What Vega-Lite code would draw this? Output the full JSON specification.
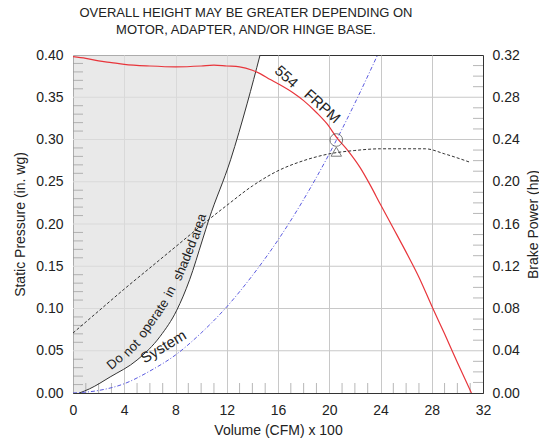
{
  "$schema": "https://vega.github.io/schema/vega-lite/v6.json",
  "width": 410,
  "height": 338,
  "autosize": {"type": "none"},
  "padding": {"left": 73, "top": 55, "right": 56, "bottom": 52},
  "background": "white",
  "config": {
    "font": "Liberation Sans",
    "view": {"stroke": "#333", "strokeWidth": 1},
    "axis": {
      "labelFont": "Liberation Sans",
      "titleFont": "Liberation Sans",
      "labelFontSize": 14,
      "titleFontSize": 14,
      "titleFontWeight": "normal",
      "labelColor": "#222",
      "titleColor": "#222",
      "domainColor": "#333",
      "gridColor": "#c8c8c8",
      "ticks": false,
      "labelOverlap": false,
      "labelFlush": false,
      "labelBound": false
    }
  },
  "title": {
    "text": ["OVERALL HEIGHT MAY BE GREATER DEPENDING ON", "MOTOR, ADAPTER, AND/OR HINGE BASE."],
    "fontSize": 13,
    "fontWeight": "normal",
    "font": "Liberation Sans",
    "lineHeight": 17,
    "offset": 11,
    "dx": -32,
    "color": "#222",
    "anchor": "middle"
  },
  "datasets": {
    "fan": [
      {"cfm": 0, "sp": 0.398}, {"cfm": 1, "sp": 0.396}, {"cfm": 2, "sp": 0.393}, {"cfm": 3, "sp": 0.391},
      {"cfm": 4, "sp": 0.389}, {"cfm": 6, "sp": 0.387}, {"cfm": 8, "sp": 0.386}, {"cfm": 10, "sp": 0.387},
      {"cfm": 11, "sp": 0.388}, {"cfm": 12, "sp": 0.387}, {"cfm": 13, "sp": 0.386}, {"cfm": 14, "sp": 0.382},
      {"cfm": 14.6, "sp": 0.378}, {"cfm": 15.4, "sp": 0.371}, {"cfm": 16, "sp": 0.366}, {"cfm": 17.2, "sp": 0.355},
      {"cfm": 18, "sp": 0.346}, {"cfm": 19, "sp": 0.332}, {"cfm": 19.8, "sp": 0.319}, {"cfm": 20.6, "sp": 0.302},
      {"cfm": 21.5, "sp": 0.286}, {"cfm": 22.4, "sp": 0.267}, {"cfm": 23.2, "sp": 0.246}, {"cfm": 24, "sp": 0.223},
      {"cfm": 25, "sp": 0.195}, {"cfm": 26.3, "sp": 0.158}, {"cfm": 27, "sp": 0.137}, {"cfm": 28, "sp": 0.103},
      {"cfm": 29, "sp": 0.07}, {"cfm": 30, "sp": 0.036}, {"cfm": 31.1, "sp": 0}
    ],
    "shade": [
      {"cfm": 0.5, "sp": 0}, {"cfm": 1.3, "sp": 0.005}, {"cfm": 2.9, "sp": 0.019}, {"cfm": 5, "sp": 0.039},
      {"cfm": 6.8, "sp": 0.067}, {"cfm": 8.1, "sp": 0.098}, {"cfm": 9.1, "sp": 0.134}, {"cfm": 10.1, "sp": 0.181},
      {"cfm": 10.6, "sp": 0.205}, {"cfm": 12.3, "sp": 0.276}, {"cfm": 13.6, "sp": 0.343}, {"cfm": 14.6, "sp": 0.4}
    ],
    "system": [
      {"cfm": 0, "sp": 0}, {"cfm": 2, "sp": 0.003}, {"cfm": 4, "sp": 0.011}, {"cfm": 6, "sp": 0.026},
      {"cfm": 8, "sp": 0.045}, {"cfm": 10, "sp": 0.071}, {"cfm": 12, "sp": 0.102}, {"cfm": 14, "sp": 0.139},
      {"cfm": 16, "sp": 0.181}, {"cfm": 18, "sp": 0.229}, {"cfm": 20, "sp": 0.283}, {"cfm": 20.55, "sp": 0.299},
      {"cfm": 22, "sp": 0.343}, {"cfm": 23.77, "sp": 0.4}
    ],
    "bhp": [
      {"cfm": 0, "hp": 0.0568}, {"cfm": 2, "hp": 0.0776}, {"cfm": 4, "hp": 0.0984}, {"cfm": 6, "hp": 0.1184},
      {"cfm": 8, "hp": 0.1384}, {"cfm": 10, "hp": 0.1584}, {"cfm": 12, "hp": 0.1776}, {"cfm": 14, "hp": 0.196},
      {"cfm": 16, "hp": 0.2104}, {"cfm": 18, "hp": 0.22}, {"cfm": 20, "hp": 0.2264}, {"cfm": 22, "hp": 0.2296},
      {"cfm": 24, "hp": 0.2312}, {"cfm": 26, "hp": 0.2312}, {"cfm": 27.5, "hp": 0.2312}, {"cfm": 29, "hp": 0.2264},
      {"cfm": 31, "hp": 0.2184}
    ],
    "ygrid": [
      {"sp": 0.05}, {"sp": 0.1}, {"sp": 0.15}, {"sp": 0.2}, {"sp": 0.25}, {"sp": 0.3}, {"sp": 0.35}
    ],
    "xminor": [
      {"cfm": 1}, {"cfm": 2}, {"cfm": 3}, {"cfm": 5}, {"cfm": 6}, {"cfm": 7}, {"cfm": 9}, {"cfm": 10}, {"cfm": 11},
      {"cfm": 13}, {"cfm": 14}, {"cfm": 15}, {"cfm": 17}, {"cfm": 18}, {"cfm": 19}, {"cfm": 21}, {"cfm": 22}, {"cfm": 23},
      {"cfm": 25}, {"cfm": 26}, {"cfm": 27}, {"cfm": 29}, {"cfm": 30}, {"cfm": 31}
    ],
    "yminor": [
      {"sp": 0.01}, {"sp": 0.02}, {"sp": 0.03}, {"sp": 0.04}, {"sp": 0.06}, {"sp": 0.07}, {"sp": 0.08}, {"sp": 0.09},
      {"sp": 0.11}, {"sp": 0.12}, {"sp": 0.13}, {"sp": 0.14}, {"sp": 0.16}, {"sp": 0.17}, {"sp": 0.18}, {"sp": 0.19},
      {"sp": 0.21}, {"sp": 0.22}, {"sp": 0.23}, {"sp": 0.24}, {"sp": 0.26}, {"sp": 0.27}, {"sp": 0.28}, {"sp": 0.29},
      {"sp": 0.31}, {"sp": 0.32}, {"sp": 0.33}, {"sp": 0.34}, {"sp": 0.36}, {"sp": 0.37}, {"sp": 0.38}, {"sp": 0.39}
    ],
    "hpminor": [
      {"hp": 0.01}, {"hp": 0.02}, {"hp": 0.03}, {"hp": 0.05}, {"hp": 0.06}, {"hp": 0.07}, {"hp": 0.09}, {"hp": 0.1},
      {"hp": 0.11}, {"hp": 0.13}, {"hp": 0.14}, {"hp": 0.15}, {"hp": 0.17}, {"hp": 0.18}, {"hp": 0.19}, {"hp": 0.21},
      {"hp": 0.22}, {"hp": 0.23}, {"hp": 0.25}, {"hp": 0.26}, {"hp": 0.27}, {"hp": 0.29}, {"hp": 0.3}, {"hp": 0.31}
    ]
  },
  "layer": [
    {
      "layer": [
        {
          "data": {"name": "ygrid"},
          "mark": {"type": "tick", "orient": "horizontal", "size": 410, "thickness": 1, "color": "#c8c8c8", "opacity": 1},
          "encoding": {
            "y": {
              "field": "sp", "type": "quantitative",
              "scale": {"domain": [0, 0.4], "nice": false},
              "axis": {
                "orient": "left",
                "title": "Static Pressure (in. wg)",
                "titlePadding": 8,
                "values": [0, 0.05, 0.1, 0.15, 0.2, 0.25, 0.3, 0.35, 0.4],
                "format": ".2f",
                "labelPadding": 10,
                "grid": false
              }
            },
            "x": {
              "datum": 16, "type": "quantitative",
              "scale": {"domain": [0, 32], "nice": false},
              "axis": {
                "orient": "bottom",
                "title": "Volume (CFM) x 100",
                "titlePadding": 6,
                "values": [0, 4, 8, 12, 16, 20, 24, 28, 32],
                "labelPadding": 10,
                "grid": true
              }
            }
          }
        },
        {
          "data": {"name": "shade"},
          "mark": {"type": "area", "orient": "horizontal", "fill": "#e0e0e0", "fillOpacity": 0.7, "interpolate": "monotone", "clip": true},
          "encoding": {
            "y": {"field": "sp", "type": "quantitative"},
            "x": {"field": "cfm", "type": "quantitative", "title": "Volume (CFM) x 100"},
            "x2": {"datum": 0}
          }
        },
        {
          "data": {"name": "xminor"},
          "mark": {"type": "tick", "orient": "vertical", "size": 20, "thickness": 1, "color": "#999", "clip": true},
          "encoding": {
            "x": {"field": "cfm", "type": "quantitative", "title": "Volume (CFM) x 100"},
            "y": {"datum": 0, "type": "quantitative"}
          }
        },
        {
          "data": {"name": "yminor"},
          "mark": {"type": "tick", "orient": "horizontal", "size": 20, "thickness": 1, "color": "#999", "clip": true},
          "encoding": {
            "y": {"field": "sp", "type": "quantitative"},
            "x": {"datum": 0, "type": "quantitative"}
          }
        },
        {
          "data": {"name": "shade"},
          "mark": {"type": "line", "stroke": "#333", "strokeWidth": 1, "interpolate": "monotone", "clip": true},
          "encoding": {
            "x": {"field": "cfm", "type": "quantitative", "title": "Volume (CFM) x 100"},
            "y": {"field": "sp", "type": "quantitative"}
          }
        },
        {
          "data": {"name": "system"},
          "mark": {"type": "line", "stroke": "#5a5ae0", "strokeWidth": 1, "strokeDash": [4, 2, 1, 2], "interpolate": "monotone", "clip": true},
          "encoding": {
            "x": {"field": "cfm", "type": "quantitative", "title": "Volume (CFM) x 100"},
            "y": {"field": "sp", "type": "quantitative"}
          }
        },
        {
          "data": {"name": "fan"},
          "mark": {"type": "line", "stroke": "#e8353b", "strokeWidth": 1.2, "interpolate": "monotone", "clip": true},
          "encoding": {
            "x": {"field": "cfm", "type": "quantitative", "title": "Volume (CFM) x 100"},
            "y": {"field": "sp", "type": "quantitative"}
          }
        },
        {
          "data": {"values": [{"cfm": 20.55, "sp": 0.2994}]},
          "mark": {"type": "point", "shape": "circle", "size": 160, "filled": false, "stroke": "#444", "strokeWidth": 1},
          "encoding": {
            "x": {"field": "cfm", "type": "quantitative", "title": "Volume (CFM) x 100"},
            "y": {"field": "sp", "type": "quantitative"}
          }
        },
        {
          "data": {"values": [{"cfm": 20.55, "sp": 0.2856}]},
          "mark": {"type": "point", "shape": "triangle-up", "size": 110, "filled": false, "stroke": "#444", "strokeWidth": 1},
          "encoding": {
            "x": {"field": "cfm", "type": "quantitative", "title": "Volume (CFM) x 100"},
            "y": {"field": "sp", "type": "quantitative"}
          }
        },
        {
          "data": {"values": [{"cfm": 16.66, "sp": 0.3744, "label": "554"}, {"cfm": 19.46, "sp": 0.3394, "label": "FRPM"}]},
          "mark": {"type": "text", "angle": 42, "fontSize": 15, "color": "#222", "align": "center", "baseline": "middle"},
          "encoding": {
            "x": {"field": "cfm", "type": "quantitative", "title": "Volume (CFM) x 100"},
            "y": {"field": "sp", "type": "quantitative"},
            "text": {"field": "label"}
          }
        },
        {
          "data": {"values": [{"cfm": 7.05, "sp": 0.0548, "label": "System"}]},
          "mark": {"type": "text", "angle": -31, "fontSize": 15, "color": "#222", "align": "center", "baseline": "middle"},
          "encoding": {
            "x": {"field": "cfm", "type": "quantitative", "title": "Volume (CFM) x 100"},
            "y": {"field": "sp", "type": "quantitative"},
            "text": {"field": "label"}
          }
        },
        {
          "data": {"values": [{"cfm": 3.28, "sp": 0.037, "label": "Do"}]},
          "mark": {"type": "text", "angle": -40, "fontSize": 13, "color": "#222", "align": "center", "baseline": "middle"},
          "encoding": {"x": {"field": "cfm", "type": "quantitative", "title": "Volume (CFM) x 100"}, "y": {"field": "sp", "type": "quantitative"}, "text": {"field": "label"}}
        },
        {
          "data": {"values": [{"cfm": 4.58, "sp": 0.053, "label": "not"}]},
          "mark": {"type": "text", "angle": -46, "fontSize": 13, "color": "#222", "align": "center", "baseline": "middle"},
          "encoding": {"x": {"field": "cfm", "type": "quantitative", "title": "Volume (CFM) x 100"}, "y": {"field": "sp", "type": "quantitative"}, "text": {"field": "label"}}
        },
        {
          "data": {"values": [{"cfm": 6.27, "sp": 0.088, "label": "operate"}]},
          "mark": {"type": "text", "angle": -55, "fontSize": 13, "color": "#222", "align": "center", "baseline": "middle"},
          "encoding": {"x": {"field": "cfm", "type": "quantitative", "title": "Volume (CFM) x 100"}, "y": {"field": "sp", "type": "quantitative"}, "text": {"field": "label"}}
        },
        {
          "data": {"values": [{"cfm": 7.58, "sp": 0.12, "label": "in"}]},
          "mark": {"type": "text", "angle": -63, "fontSize": 13, "color": "#222", "align": "center", "baseline": "middle"},
          "encoding": {"x": {"field": "cfm", "type": "quantitative", "title": "Volume (CFM) x 100"}, "y": {"field": "sp", "type": "quantitative"}, "text": {"field": "label"}}
        },
        {
          "data": {"values": [{"cfm": 8.75, "sp": 0.157, "label": "shaded"}]},
          "mark": {"type": "text", "angle": -68, "fontSize": 13, "color": "#222", "align": "center", "baseline": "middle"},
          "encoding": {"x": {"field": "cfm", "type": "quantitative", "title": "Volume (CFM) x 100"}, "y": {"field": "sp", "type": "quantitative"}, "text": {"field": "label"}}
        },
        {
          "data": {"values": [{"cfm": 9.79, "sp": 0.197, "label": "area"}]},
          "mark": {"type": "text", "angle": -72, "fontSize": 13, "color": "#222", "align": "center", "baseline": "middle"},
          "encoding": {"x": {"field": "cfm", "type": "quantitative", "title": "Volume (CFM) x 100"}, "y": {"field": "sp", "type": "quantitative"}, "text": {"field": "label"}}
        }
      ]
    },
    {
      "layer": [
        {
          "data": {"name": "bhp"},
          "mark": {"type": "line", "stroke": "#333", "strokeWidth": 1, "strokeDash": [3, 2], "interpolate": "monotone", "clip": true},
          "encoding": {
            "x": {"field": "cfm", "type": "quantitative", "title": "Volume (CFM) x 100"},
            "y": {
              "field": "hp", "type": "quantitative",
              "scale": {"domain": [0, 0.32], "nice": false},
              "axis": {
                "orient": "right",
                "title": "Brake Power (hp)",
                "titleAngle": -90,
                "titleX": 50,
                "titleY": 169,
                "titleAlign": "center",
                "titleBaseline": "middle",
                "values": [0, 0.04, 0.08, 0.12, 0.16, 0.2, 0.24, 0.28, 0.32],
                "format": ".2f",
                "labelPadding": 9,
                "grid": false
              }
            }
          }
        },
        {
          "data": {"name": "hpminor"},
          "mark": {"type": "tick", "orient": "horizontal", "size": 20, "thickness": 1, "color": "#999", "clip": true},
          "encoding": {
            "y": {"field": "hp", "type": "quantitative"},
            "x": {"datum": 32, "type": "quantitative"}
          }
        }
      ]
    }
  ],
  "resolve": {"scale": {"y": "independent"}}
}
